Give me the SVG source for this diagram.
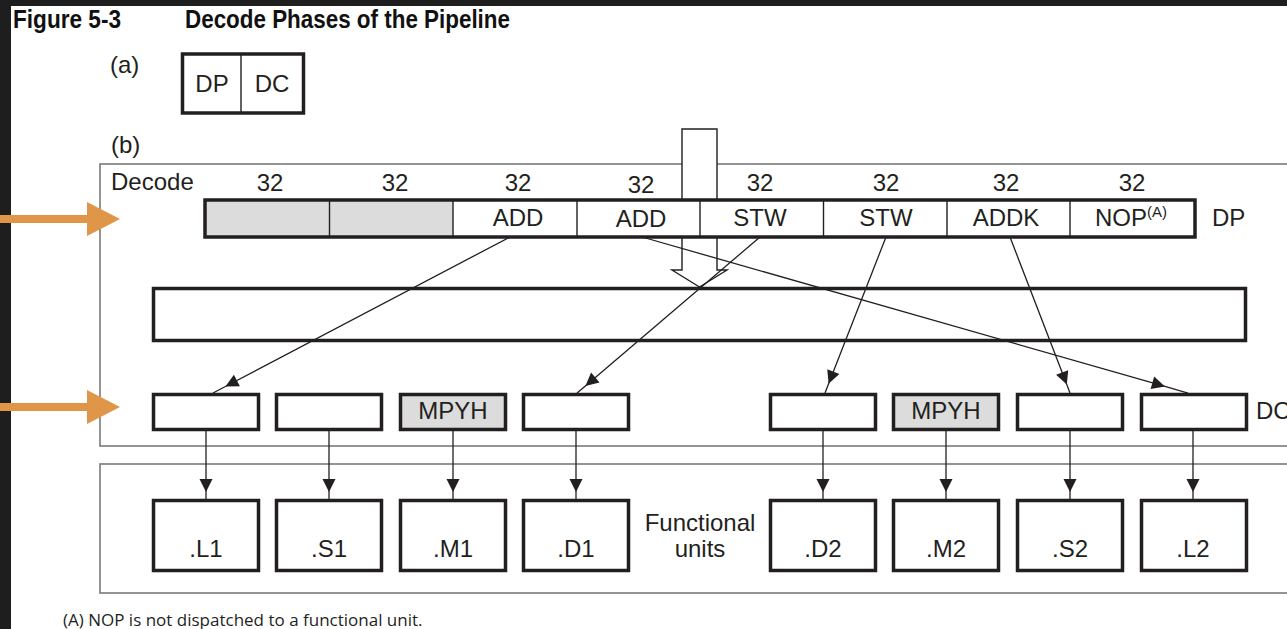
<svg xmlns="http://www.w3.org/2000/svg" width="1287" height="629" viewBox="0 0 1287 629">
<style>
.t{font-family:"Liberation Sans",Arial,sans-serif;font-size:24px;fill:#231f20}
.c{text-anchor:middle}
.tb{font-family:"Liberation Sans",Arial,sans-serif;font-weight:bold;font-size:25px;fill:#111}
.fn{font-family:"Open Sans","Liberation Sans",sans-serif;font-size:17px;fill:#231f20}
.thick{fill:#fff;stroke:#231f20;stroke-width:3.5}
.grey{fill:#dcdcdc}
.thin{stroke:#231f20;stroke-width:1.4;fill:none}
.frame{fill:none;stroke:#7a7a7a;stroke-width:1.6}
.conn{stroke:#231f20;stroke-width:1.3;fill:none;marker-mid:url(#ah)}
.orange{fill:#df9648}
</style>
<defs>
<marker id="ah" markerUnits="userSpaceOnUse" viewBox="-14 -7 15 14" refX="0" refY="0" markerWidth="15" markerHeight="14" orient="auto">
<path d="M0,0 L-13,-6.5 L-13,6.5 Z" fill="#231f20"/>
</marker>
</defs>
<rect x="0" y="0" width="1287" height="629" fill="#fff"/>
<rect x="0" y="0" width="1287" height="6" fill="#1e1e1e"/>
<rect x="0" y="0" width="11" height="629" fill="#1e1e1e"/>

<g id="title">
<text class="tb" x="13" y="28" textLength="108" lengthAdjust="spacingAndGlyphs">Figure 5-3</text>
<text class="tb" x="185" y="28" textLength="325" lengthAdjust="spacingAndGlyphs">Decode Phases of the Pipeline</text>
</g>

<g id="part-a">
<text class="t" x="110" y="73">(a)</text>
<rect class="thick" x="182.5" y="54" width="121" height="59"/>
<line class="thin" x1="241" y1="54" x2="241" y2="113"/>
<text class="t c" x="212" y="92">DP</text>
<text class="t c" x="272" y="92">DC</text>
</g>

<g id="frames">
<text class="t" x="111" y="153">(b)</text>
<rect class="frame" x="100" y="164" width="1300" height="282"/>
<rect class="frame" x="100" y="464" width="1300" height="129"/>
<text class="t" x="111" y="190">Decode</text>
</g>

<g id="fetch-arrow">
<polygon points="682,129 717,129 717,270 727,270 699.5,287 672,270 682,270" fill="#fff" stroke="#231f20" stroke-width="1.4"/>
</g>

<g id="dp-register">
<rect x="205" y="200" width="990" height="37" fill="#fff"/>
<rect class="grey" x="205" y="200" width="248" height="37"/>
<rect x="205" y="200" width="990" height="37" fill="none" stroke="#231f20" stroke-width="3.5"/>
<g class="thin">
<line x1="329.5" y1="200" x2="329.5" y2="237"/>
<line x1="453" y1="200" x2="453" y2="237"/>
<line x1="577" y1="200" x2="577" y2="237"/>
<line x1="700" y1="200" x2="700" y2="237"/>
<line x1="823.5" y1="200" x2="823.5" y2="237"/>
<line x1="947" y1="200" x2="947" y2="237"/>
<line x1="1070" y1="200" x2="1070" y2="237"/>
</g>
<text class="t c" x="270" y="191">32</text>
<text class="t c" x="395" y="191">32</text>
<text class="t c" x="518" y="191">32</text>
<text class="t c" x="641" y="193">32</text>
<text class="t c" x="760" y="191">32</text>
<text class="t c" x="886" y="191">32</text>
<text class="t c" x="1006" y="191">32</text>
<text class="t c" x="1132" y="191">32</text>
<text class="t c" x="518" y="226">ADD</text>
<text class="t c" x="641" y="227">ADD</text>
<text class="t c" x="760" y="226">STW</text>
<text class="t c" x="886" y="226">STW</text>
<text class="t c" x="1006" y="226">ADDK</text>
<text class="t" x="1095" y="226">NOP<tspan font-size="15" dy="-9">(A)</tspan></text>
<text class="t" x="1212" y="226">DP</text>
</g>

<g id="dispatch-bus">
<rect class="thick" x="153.5" y="288.5" width="1092" height="52"/>
</g>

<g id="connectors">
<path class="conn" d="M510,237 L225.4,386.5 L213,393"/>
<path class="conn" d="M642,237 L1164.9,386.4 L1188,393"/>
<path class="conn" d="M760,237 L585.4,385.9 L577,393"/>
<path class="conn" d="M886,237 L828.6,383.7 L825,393"/>
<path class="conn" d="M1010,237 L1066.8,384.6 L1070,393"/>
<path class="conn" d="M206,431 L206,492 L206,499"/>
<path class="conn" d="M329,431 L329,492 L329,499"/>
<path class="conn" d="M453,431 L453,492 L453,499"/>
<path class="conn" d="M576,431 L576,492 L576,499"/>
<path class="conn" d="M823,431 L823,492 L823,499"/>
<path class="conn" d="M946,431 L946,492 L946,499"/>
<path class="conn" d="M1070,431 L1070,492 L1070,499"/>
<path class="conn" d="M1193,431 L1193,492 L1193,499"/>
</g>

<g id="dc-slots">
<rect class="thick" x="153.5" y="394.5" width="105" height="35"/>
<rect class="thick" x="276.5" y="394.5" width="105" height="35"/>
<rect class="thick" x="400.5" y="394.5" width="105" height="35" style="fill:#dcdcdc"/>
<rect class="thick" x="523.5" y="394.5" width="105" height="35"/>
<rect class="thick" x="770.5" y="394.5" width="105" height="35"/>
<rect class="thick" x="893.5" y="394.5" width="105" height="35" style="fill:#dcdcdc"/>
<rect class="thick" x="1017.5" y="394.5" width="105" height="35"/>
<rect class="thick" x="1141.5" y="394.5" width="105" height="35"/>
<text class="t c" x="453" y="419">MPYH</text>
<text class="t c" x="946" y="419">MPYH</text>
<text class="t" x="1256" y="419">DC</text>
</g>

<g id="functional-units">
<rect class="thick" x="153.5" y="500.5" width="105" height="70"/>
<rect class="thick" x="276.5" y="500.5" width="105" height="70"/>
<rect class="thick" x="400.5" y="500.5" width="105" height="70"/>
<rect class="thick" x="523.5" y="500.5" width="105" height="70"/>
<rect class="thick" x="770.5" y="500.5" width="105" height="70"/>
<rect class="thick" x="893.5" y="500.5" width="105" height="70"/>
<rect class="thick" x="1017.5" y="500.5" width="105" height="70"/>
<rect class="thick" x="1141.5" y="500.5" width="105" height="70"/>
<text class="t c" x="206" y="557">.L1</text>
<text class="t c" x="329" y="557">.S1</text>
<text class="t c" x="453" y="557">.M1</text>
<text class="t c" x="576" y="557">.D1</text>
<text class="t c" x="823" y="557">.D2</text>
<text class="t c" x="946" y="557">.M2</text>
<text class="t c" x="1070" y="557">.S2</text>
<text class="t c" x="1193" y="557">.L2</text>
<text class="t c" x="700" y="531">Functional</text>
<text class="t c" x="700" y="557">units</text>
</g>

<g id="footnote">
<text class="fn" x="63" y="626">(A) NOP is not dispatched to a functional unit.</text>
</g>

<g id="orange-arrows">
<rect class="orange" x="0" y="215" width="88" height="8"/>
<polygon class="orange" points="87,202 120,219 87,236"/>
<rect class="orange" x="0" y="403" width="88" height="8"/>
<polygon class="orange" points="87,390 120,407 87,424"/>
</g>
</svg>
